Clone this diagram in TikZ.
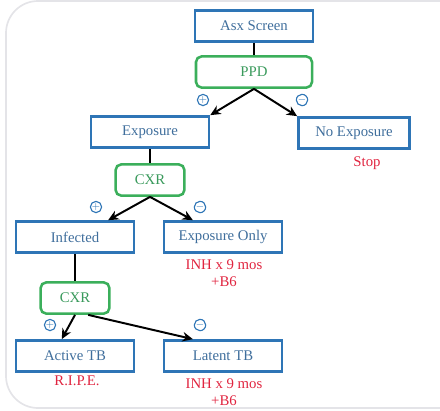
\documentclass[tikz,border=0pt]{standalone}
\usepackage{fontspec}
\setmainfont{Liberation Serif}
\usetikzlibrary{arrows.meta, calc}
\definecolor{cblue}{HTML}{2E75B6}
\definecolor{cbluetext}{HTML}{3F6E9C}
\definecolor{cgreen}{HTML}{3BAF5B}
\definecolor{cgreentext}{HTML}{3A9A5C}
\definecolor{cred}{HTML}{E0243F}
\definecolor{cframe}{HTML}{E4E4E8}
\tikzset{
  every picture/.style={line width=1.3pt},
  resbox/.style={draw=cblue, text=cbluetext, minimum width=#1, minimum height=0.78cm, line width=1.8pt, font=\fontsize{10.5}{12.5}\selectfont},
  resbox/.default=2.95cm,
  exambox/.style={draw=cgreen, text=cgreentext, rounded corners=4pt, minimum width=#1, minimum height=0.78cm, line width=1.8pt, font=\fontsize{10.5}{12.5}\selectfont},
  exambox/.default=1.72cm,
  arrow/.style={-{Stealth[length=2.6mm, width=2.4mm]}, draw=black, line width=1.4pt},
  link/.style={draw=black, line width=1.4pt},
  plan/.style={text=cred, align=center, font=\fontsize{10.5}{12.5}\selectfont},
  sign/.style={circle, draw=cblue, text=cblue, inner sep=0pt, minimum size=0.25cm, line width=0.8pt, font=\fontsize{7}{7}\selectfont\bfseries},
}
\begin{document}
\begin{tikzpicture}[x=0.025cm, y=-0.025cm]
  \useasboundingbox (0,0) rectangle (440,410);
  % frame
  \draw[cframe, line width=1.2pt, rounded corners=0.8cm] (445,1) -- (6,1) -- (6,408) -- (445,408);
  % boxes
  \node[resbox] (asx) at (254,26) {Asx Screen};
  \node[exambox=2.9cm] (ppd) at (254,72) {PPD};
  \node[resbox] (expo) at (150,132) {Exposure};
  \node[resbox=2.78cm] (noexpo) at (354,133) {No Exposure};
  \node[exambox] (cxra) at (150,180) {CXR};
  \node[resbox] (infected) at (75,237) {Infected};
  \node[resbox] (exponly) at (223,237) {Exposure Only};
  \node[exambox] (cxrb) at (75,298) {CXR};
  \node[resbox] (active) at (75,356) {Active TB};
  \node[resbox] (latent) at (223,356) {Latent TB};
  % treatment notes
  \node[plan] (stop) at (367,163) {Stop};
  \node[plan] (inha) at (224,273) {INH x 9 mos\\+B6};
  \node[plan] (ripe) at (77,381) {R.I.P.E.};
  \node[plan] (inhb) at (224,392) {INH x 9 mos\\+B6};
  % connectors
  \draw[link] (asx) -- (ppd);
  \draw[arrow] (ppd.south) -- (expo.north east);
  \draw[arrow] (ppd.south) -- (noexpo.north west);
  \draw[link] (expo) -- (cxra);
  \draw[arrow] (cxra.south) -- ($(infected.north)!0.55!(infected.north east)$);
  \draw[arrow] (cxra.south) -- ($(exponly.north)!0.5!(exponly.north west)$);
  \draw[link] (infected) -- (cxrb);
  \draw[arrow] (cxrb.south) -- ($(active.north)!0.22!(active.north west)$);
  \draw[arrow] ($(cxrb.south)!0.37!(cxrb.south east)$) -- ($(latent.north)!0.5!(latent.north west)$);
  % plus / minus marks
  \node[sign] (pa) at (203,100) {$+$};
  \node[sign] (ma) at (302,100) {$-$};
  \node[sign] (pb) at (96,207) {$+$};
  \node[sign] (mb) at (200,207) {$-$};
  \node[sign] (pc) at (50,325) {$+$};
  \node[sign] (mc) at (200,325) {$-$};
\end{tikzpicture}
\end{document}
